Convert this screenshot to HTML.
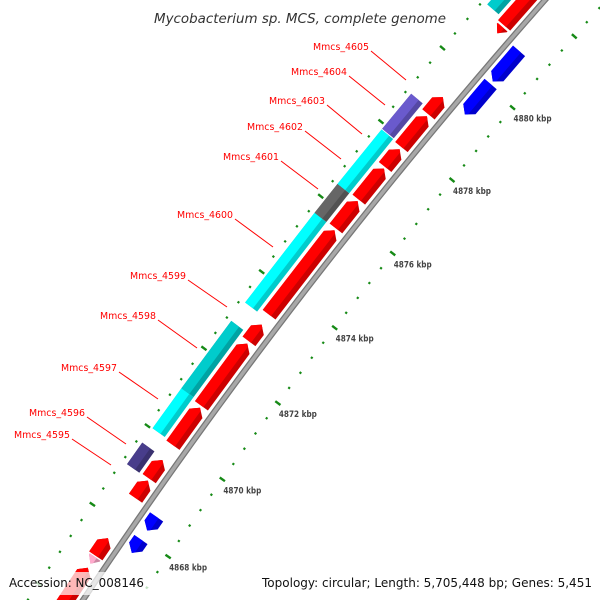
<!DOCTYPE html>
<html><head><meta charset="utf-8"><style>
html,body{margin:0;padding:0;background:#fff;width:600px;height:600px;overflow:hidden;}
svg{display:block;overflow:hidden;}
text{font-family:"DejaVu Sans","Liberation Sans",sans-serif;}
</style></head><body>
<svg id="map" width="600" height="600" viewBox="0 0 600 600" xmlns="http://www.w3.org/2000/svg">
<defs><clipPath id="frame"><rect width="600" height="600"/></clipPath></defs>
<rect width="600" height="600" fill="#fff"/>
<g clip-path="url(#frame)">
<g id="ticks"></g>
<g id="backbone"></g>
<g id="features"></g>
<g id="labels"></g>
<g id="ticklabels"></g>
</g>
<text x="300" y="23" text-anchor="middle" font-size="13.5" font-style="italic" fill="#333" textLength="292" lengthAdjust="spacingAndGlyphs">Mycobacterium sp. MCS, complete genome</text>
<rect x="6" y="572" width="142" height="23" fill="#fff" fill-opacity="0.72"/>
<rect x="258" y="572" width="338" height="23" fill="#fff" fill-opacity="0.72"/>
<text x="9" y="587" font-size="12.5" fill="#111" textLength="135" lengthAdjust="spacingAndGlyphs">Accession: NC_008146</text>
<text x="592" y="587" text-anchor="end" font-size="12.5" fill="#111" textLength="330" lengthAdjust="spacingAndGlyphs">Topology: circular; Length: 5,705,448 bp; Genes: 5,451</text>
</svg>
<script>
// ---- data ----
var majorTicks = [4868, 4870, 4872, 4874, 4876, 4878, 4880];
var tickLabels = ["4868 kbp", "4870 kbp", "4872 kbp", "4874 kbp", "4876 kbp", "4878 kbp", "4880 kbp"];
var fwdStarts = [4865.5, 4867.15, 4868.62, 4869.12, 4869.98, 4871.0, 4872.68, 4873.38, 4875.67, 4876.44, 4877.32, 4877.86, 4878.75, 4881.2];
var fwdEnds   = [4866.85, 4867.6, 4869.07, 4869.6, 4870.95, 4872.62, 4873.12, 4875.62, 4876.4, 4877.28, 4877.8, 4878.7, 4879.22, 4883.5];
var revStarts = [4867.63, 4868.2, 4879.24, 4880.15];
var revEnds   = [4867.97, 4868.55, 4880.08, 4881.0];
var smallRevStarts = [4866.95, 4880.98];
var smallRevEnds   = [4867.12, 4881.15];
var smallRevColors = ["#ffaacc", "#ff0000"];
var annStarts = [4869.1, 4870.02, 4871.05, 4873.28, 4875.65, 4876.42, 4877.9, 4881.3];
var annEnds   = [4869.65, 4871.05, 4872.8, 4875.65, 4876.42, 4877.88, 4878.85, 4883.5];
var annColors = ["#483d8b", "#00ffff", "#00cccc", "#00ffff", "#666666", "#00ffff", "#6a5acd", "#00cccc"];
var geneNames = ["Mmcs_4595","Mmcs_4596","Mmcs_4597","Mmcs_4598","Mmcs_4599","Mmcs_4600","Mmcs_4601","Mmcs_4602","Mmcs_4603","Mmcs_4604","Mmcs_4605"];
var labelX = [14, 29, 61, 100, 130, 177, 223, 247, 269, 291, 313];
var labelY = [438, 416, 371, 319, 279, 218, 160, 130, 104, 75, 50];
var leaderEndX = [111, 126, 158, 197, 227, 273, 318, 341, 362, 385, 406];
var leaderEndY = [465, 444, 399, 348, 307, 247, 189, 159, 134, 105, 80];

// ---- geometry ----
var CX = 4786, CY = 3743.4, R = 5656.8;
var A0 = 214.61, DPK = 0.4817;
var NS = "http://www.w3.org/2000/svg";
function pt(k, off) {
  var a = (A0 + (k - 4868) * DPK) * Math.PI / 180;
  return [CX + (R + off) * Math.cos(a), CY + (R + off) * Math.sin(a)];
}
function mk(tag, attrs, parent) {
  var e = document.createElementNS(NS, tag);
  for (var key in attrs) e.setAttribute(key, attrs[key]);
  parent.appendChild(e);
  return e;
}
function ptsStr(list) { return list.map(function(p){ var q = pt(p[0], p[1]); return q[0].toFixed(2) + "," + q[1].toFixed(2); }).join(" "); }
function shade(c, f) {
  var n = parseInt(c.slice(1), 16), r = (n >> 16) & 255, g = (n >> 8) & 255, b = n & 255;
  return "rgb(" + Math.round(r * f) + "," + Math.round(g * f) + "," + Math.round(b * f) + ")";
}
var HL = 7 / 47.6;
function shape(k1, k2, o, h, dir, color, g, name) {
  var hl = dir === 0 ? 0 : Math.min(HL, (k2 - k1) * 0.9);
  var s = h * 0.7;
  var full, light;
  if (dir === 1) {
    full = [[k1, o - h], [k1, o + h], [k2 - hl, o + h], [k2, o], [k2 - hl, o - h]];
    light = [[k1, o - h + s], [k1, o + h], [k2 - hl, o + h], [k2, o], [k2 - hl + hl * s / h, o - h + s]];
  } else if (dir === -1) {
    full = [[k2, o - h], [k2, o + h], [k1 + hl, o + h], [k1, o], [k1 + hl, o - h]];
    light = [[k2, o - h + s], [k2, o + h], [k1 + hl, o + h], [k1, o], [k1 + hl - hl * s / h, o - h + s]];
  } else {
    full = [[k1, o - h], [k1, o + h], [k2, o + h], [k2, o - h]];
    light = [[k1, o - h + s], [k1, o + h], [k2, o + h], [k2, o - h + s]];
  }
  var grp = mk("g", {}, g);
  
  
  var p1 = mk("polygon", {points: ptsStr(full), fill: shade(color, 0.8)}, grp);
  
  
  var p2 = mk("polygon", {points: ptsStr(light), fill: color}, grp);
  
  
}

// ticks
var tg = document.getElementById("ticks");
for (var i = -7; i <= 38; i++) {
  var k = 4868 + i * 0.4;
  var major = (i % 5 === 0);
  [-46, 46].forEach(function(off) {
    var len = major ? 3.2 : 1.1;
    var a = pt(k, off - len), b = pt(k, off + len);
    var ln = mk("line", {x1: a[0], y1: a[1], x2: b[0], y2: b[1], stroke: "#168a16", "stroke-width": major ? 2.4 : 2.2}, tg);
    
    
  });
}
var tlg = document.getElementById("ticklabels");
majorTicks.forEach(function(k, j) {
  var p = pt(k, -46);
  var t = mk("text", {x: p[0] + 1, y: p[1] + 14, "font-size": "9", "font-weight": "bold", fill: "#444", textLength: "38", lengthAdjust: "spacingAndGlyphs"}, tlg);
  t.textContent = tickLabels[j];
  
  
});

// backbone
var bg = document.getElementById("backbone");
var bp = [];
for (var k2 = 4864.5; k2 <= 4883.5; k2 += 0.25) bp.push([k2, 0]);
var bstr = ptsStr(bp);
var b1 = mk("polyline", {points: bstr, fill: "none", stroke: "#777", "stroke-width": 6}, bg);


var b2 = mk("polyline", {points: bstr, fill: "none", stroke: "#a8a8a8", "stroke-width": 3.5}, bg);



// features
var fg = document.getElementById("features");
fwdStarts.forEach(function(s, j) { shape(s, fwdEnds[j], 14, 8, 1, "#ff0000", fg, "forward-gene"); });
revStarts.forEach(function(s, j) { shape(s, revEnds[j], -14, 8, -1, "#0000ff", fg, "reverse-gene"); });
smallRevStarts.forEach(function(s, j) { shape(s, smallRevEnds[j], 14, 6.5, -1, smallRevColors[j], fg, "small-gene"); });
annStarts.forEach(function(s, j) { shape(s, annEnds[j], 33, 7.5, 0, annColors[j], fg, "annotation-block"); });

// labels
var lg = document.getElementById("labels");
geneNames.forEach(function(n, j) {
  var t = mk("text", {x: labelX[j], y: labelY[j], "font-size": "10", fill: "#ff0000", textLength: "56", lengthAdjust: "spacingAndGlyphs"}, lg);
  t.textContent = n;
  
  
  var ln = mk("line", {x1: labelX[j] + 58, y1: labelY[j] + 1, x2: leaderEndX[j], y2: leaderEndY[j], stroke: "#ff0000", "stroke-width": 1}, lg);
  
  
});
</script>
</body></html>
